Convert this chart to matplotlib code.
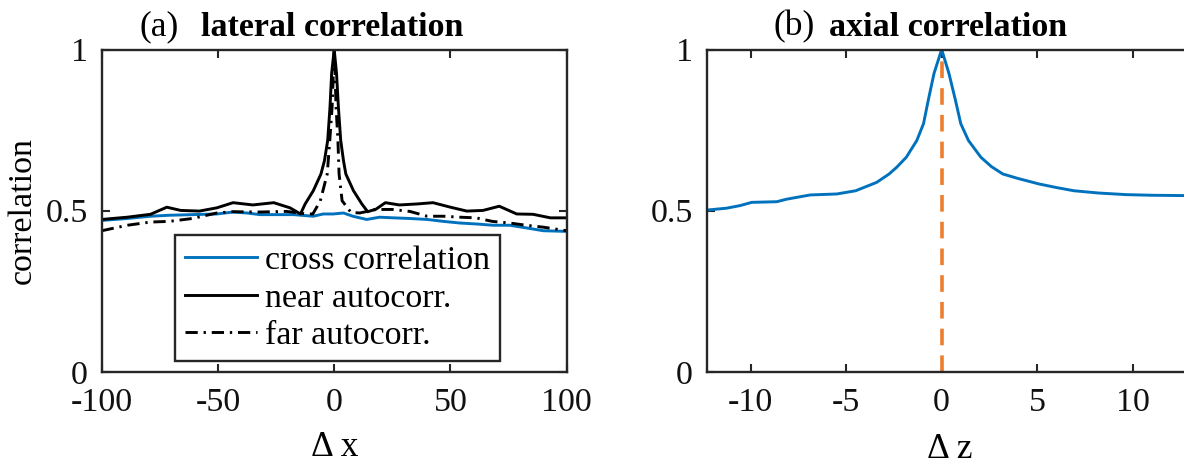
import matplotlib
matplotlib.use("Agg")
import matplotlib.pyplot as plt

plt.rcParams['font.family'] = ['Liberation Serif', 'DejaVu Serif']
plt.rcParams['axes.unicode_minus'] = False

# ---------------- data ----------------
# (a) lateral correlation
near_x = [-100, -89, -79, -72, -66, -58, -50.5, -43.5, -35, -26, -19, -14.5, -12.5, -9, -5.7, -4.2,
          -2.8, -1.8, -1.1, 0, 1.0, 1.8, 2.8, 4.0, 5.0, 8.3, 11.9, 14.4, 18, 22, 28, 35.5, 42.5, 50,
          57, 64, 71, 78.5, 85.5, 93, 100]
near_y = [0.473, 0.480, 0.489, 0.511, 0.501, 0.499, 0.509, 0.525, 0.518, 0.525, 0.509, 0.490, 0.521,
          0.562, 0.614, 0.655, 0.718, 0.822, 0.926, 1.0, 0.926, 0.822, 0.718, 0.655, 0.614, 0.562,
          0.521, 0.497, 0.505, 0.525, 0.518, 0.521, 0.525, 0.511, 0.499, 0.501, 0.514, 0.490, 0.489,
          0.478, 0.478]

far_x = [-100, -89, -79, -71, -61, -50.5, -43.5, -32, -20.5, -12, -9.2, -6, -3.0, -1.9, -0.9, -0.4, 0,
         0.4, 0.8, 1.6, 2.1, 3.4, 7.2, 11, 18, 25, 32.5, 40, 47, 54, 61, 68, 75.5, 82.5, 90, 100]
far_y = [0.438, 0.455, 0.465, 0.467, 0.476, 0.493, 0.497, 0.496, 0.498, 0.490, 0.490, 0.530, 0.614,
         0.718, 0.822, 0.920, 1.0, 0.920, 0.822, 0.718, 0.614, 0.531, 0.495, 0.493, 0.504, 0.504,
         0.498, 0.483, 0.483, 0.480, 0.478, 0.467, 0.462, 0.455, 0.449, 0.438]

cross_x = [-100, -89, -79, -71, -61, -50.5, -43.5, -37.5, -32, -23, -17.5, -9, -4.7, -0.5, 4, 8, 14,
           19.5, 25.5, 32.5, 40, 47, 54, 61, 68.5, 75.5, 82.5, 90, 100]
cross_y = [0.470, 0.476, 0.483, 0.486, 0.488, 0.490, 0.496, 0.493, 0.488, 0.488, 0.488, 0.483, 0.490,
           0.490, 0.493, 0.483, 0.473, 0.480, 0.478, 0.476, 0.473, 0.467, 0.462, 0.459, 0.455, 0.455,
           0.447, 0.438, 0.436]

# (b) axial correlation
axial_z = [-12.3, -11.25, -10.55, -9.94, -8.63, -8.1, -6.88, -5.49, -4.5, -3.4, -2.75, -2.35, -1.85,
           -1.3, -0.95, -0.7, -0.4, 0, 0.38, 0.72, 1.0, 1.4, 2.05, 2.6, 3.2, 4.0, 5.1, 6.0, 6.92,
           8.2, 9.65, 11.0, 12.7, 13.5]
axial_c = [0.502, 0.508, 0.516, 0.526, 0.528, 0.536, 0.549, 0.552, 0.562, 0.588, 0.614, 0.635, 0.666,
           0.718, 0.770, 0.843, 0.926, 1.0, 0.926, 0.843, 0.770, 0.718, 0.666, 0.637, 0.614, 0.600,
           0.583, 0.572, 0.562, 0.555, 0.550, 0.548, 0.547, 0.547]
peak_z = [0, 0]
peak_c = [0, 1]

a_xticks = [-100, -50, 0, 50, 100]
a_xticklabels = ['-100', '-50', '0', '50', '100']
b_xticks = [-10, -5, 0, 5, 10]
b_xticklabels = ['-10', '-5', '0', '5', '10']
yticks = [0, 0.5, 1]
yticklabels = ['0', '0.5', '1']
legend_labels = ['cross correlation', 'near autocorr.', 'far autocorr.']

# ---------------- figure ----------------
W, H = 1184, 466
fig = plt.figure(figsize=(W / 100, H / 100), dpi=100)

FS = 24.5
LW = 2.1
BLUE = '#0072BD'
ORANGE = '#EE7E2E'
AX_COL = '#262626'


def px_rect(l, t, r, b):
    return [l / W, 1 - b / H, (r - l) / W, (b - t) / H]


def style(ax):
    for s in ax.spines.values():
        s.set_linewidth(1.7)
        s.set_color(AX_COL)
    ax.tick_params(direction='in', length=6, width=1.5, color=AX_COL, labelsize=FS,
                   labelcolor='#111111', top=True, right=True)
    ax.tick_params(axis='x', pad=11)
    ax.tick_params(axis='y', pad=10)


ax1 = fig.add_axes(px_rect(101.7, 49.5, 566.7, 372))
ax2 = fig.add_axes(px_rect(707, 49.5, 1192, 372))

# panel a
l1, = ax1.plot(cross_x, cross_y, color=BLUE, lw=LW)
l2, = ax1.plot(near_x, near_y, color='black', lw=LW)
l3, = ax1.plot(far_x, far_y, color='black', lw=LW, linestyle=(0, (4.2, 2.0, 0.8, 2.0)))
ax1.set_xlim(-100, 100)
ax1.set_ylim(0, 1)
ax1.set_xticks(a_xticks)
ax1.set_xticklabels(a_xticklabels)
ax1.set_yticks(yticks)
ax1.set_yticklabels(yticklabels)
style(ax1)
ax1.set_ylabel('correlation', fontsize=FS)
ax1.yaxis.set_label_coords((23 - 101.7) / 465, 0.5)
ax1.yaxis.label.set_va('center')
ax1.set_xlabel('\u0394 x', fontsize=FS + 1)
ax1.xaxis.set_label_coords(0.5, (372 - 447) / 322.5)
ax1.xaxis.label.set_va('center')

leg = ax1.legend([l1, l2, l3], legend_labels, loc='upper left',
                 bbox_to_anchor=((175 - 101.7) / 465, (372 - 235) / 322.5),
                 borderaxespad=0, fontsize=FS, handlelength=2.1, handletextpad=0.25,
                 labelspacing=0.2, borderpad=0.3, fancybox=False, framealpha=1,
                 edgecolor=AX_COL)
leg.get_frame().set_linewidth(1.7)

# panel b
ax2.plot(peak_z, peak_c, color=ORANGE, lw=2.6, linestyle=(0, (4.6, 2.8)))
ax2.plot(axial_z, axial_c, color=BLUE, lw=LW)
ax2.set_xlim(-12.28, 13.1)
ax2.set_ylim(0, 1)
ax2.set_xticks(b_xticks)
ax2.set_xticklabels(b_xticklabels)
ax2.set_yticks(yticks)
ax2.set_yticklabels(yticklabels)
style(ax2)
ax2.set_xlabel('\u0394 z', fontsize=FS + 1)
ax2.xaxis.set_label_coords(0.5, (372 - 449) / 322.5)
ax2.xaxis.label.set_va('center')

# titles: regular "(x)" + bold description
fig.text(179 / W, 1 - 35.5 / H, '(a)', fontsize=FS + 1, ha='right', va='baseline')
fig.text(201 / W, 1 - 35.5 / H, 'lateral correlation', fontsize=FS, fontweight='bold',
         ha='left', va='baseline')
fig.text(815 / W, 1 - 35.5 / H, '(b)', fontsize=FS + 1, ha='right', va='baseline')
fig.text(829 / W, 1 - 35.5 / H, 'axial correlation', fontsize=FS, fontweight='bold',
         ha='left', va='baseline')

fig.savefig('out.png', dpi=100)
